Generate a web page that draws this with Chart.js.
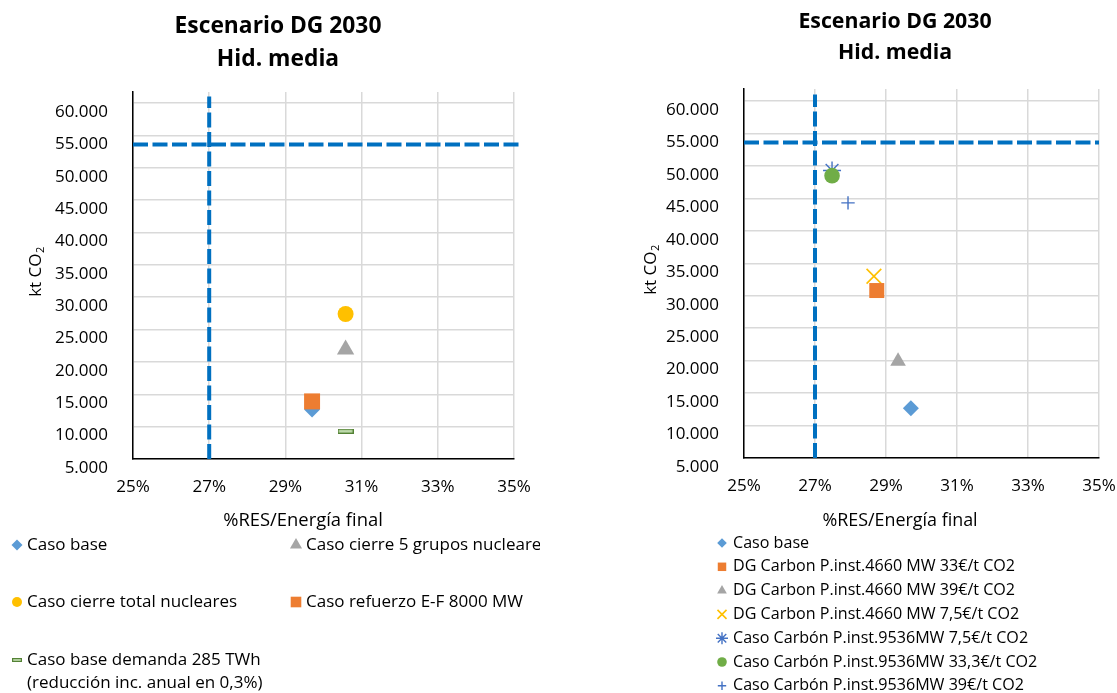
<!DOCTYPE html>
<html>
<head>
<meta charset="utf-8">
<script src="https://cdn.jsdelivr.net/npm/chart.js@4.4.1/dist/chart.umd.min.js"></script>
<style>
  html, body { margin: 0; padding: 0; background: #ffffff; }
  #wrap { position: relative; width: 1117px; height: 693px; overflow: hidden; background: #ffffff; }
  canvas { position: absolute; top: 0; }
  #left { left: 0; }
  #right { left: 560px; }
</style>
</head>
<body>
<div id="wrap">
  <canvas id="left" width="560" height="693"></canvas>
  <canvas id="right" width="557" height="693"></canvas>
</div>
<script>
// ---- Axis ticks -------------------------------------------------------
const xTickValues = [25, 27, 29, 31, 33, 35];
const xTickLabels = ['25%', '27%', '29%', '31%', '33%', '35%'];
const yTickValues = [5000, 10000, 15000, 20000, 25000, 30000, 35000, 40000, 45000, 50000, 55000, 60000];
const yTickLabels = ['5.000', '10.000', '15.000', '20.000', '25.000', '30.000',
                     '35.000', '40.000', '45.000', '50.000', '55.000', '60.000'];

// ---- Objective lines (dashed) -----------------------------------------
const resObjective = [{ x: 27, y: 5000 }, { x: 27, y: 61000 }];
const co2ObjectiveLeft = [{ x: 25, y: 53600 }, { x: 35.16, y: 53600 }];
const co2ObjectiveRight = [{ x: 25, y: 53600 }, { x: 35, y: 53600 }];

// ---- Left chart: nuclear / interconnection / demand cases -------------
const casoBase = [{ x: 29.70, y: 12650 }];
const cierre5Grupos = [{ x: 30.58, y: 21900 }];
const cierreTotal = [{ x: 30.58, y: 27400 }];
const refuerzoEF = [{ x: 29.70, y: 13900 }];
const demanda285 = [{ x: 30.58, y: 9300 }];

// ---- Right chart: coal capacity / CO2 price cases ---------------------
const dg33 = [{ x: 28.74, y: 30800 }];
const dg39 = [{ x: 29.34, y: 19900 }];
const dg75 = [{ x: 28.66, y: 33000 }];
const carbon75 = [{ x: 27.48, y: 49300 }];
const carbon333 = [{ x: 27.48, y: 48500 }];
const carbon39 = [{ x: 27.93, y: 44300 }];

const FONT = '"Open Sans", Lato, "Noto Sans", sans-serif';
Chart.defaults.font.family = FONT;
Chart.defaults.color = '#000';

const C = {
  blue: '#5B9BD5', orange: '#ED7D31', gray: '#A5A5A5', gold: '#FFC000',
  navy: '#4472C4', green: '#70AD47', line: '#0070C0'
};

// Hollow green bar marker for the reduced-demand case
function barMarker(w, h) {
  const c = document.createElement('canvas');
  c.width = w; c.height = h;
  const g = c.getContext('2d');
  g.fillStyle = '#C5E0B4';
  g.fillRect(0, 0, w, h);
  g.strokeStyle = '#548235';
  g.lineWidth = 1.2;
  g.strokeRect(0.6, 0.6, w - 1.2, h - 1.2);
  return c;
}
const barBig = barMarker(16, 5);
const barSmall = barMarker(10, 4);

function objectiveLine(data) {
  return {
    label: '', data, showLine: true, pointRadius: 0, borderColor: C.line,
    borderWidth: 4, borderDash: [15, 4.5], fill: false, clip: false, order: 100, legend: false
  };
}

function marker(label, data, style, radius, color, extra) {
  return Object.assign({
    label, data, pointStyle: style, pointRadius: radius, pointHoverRadius: radius,
    backgroundColor: color, borderColor: color, borderWidth: 0, order: 1
  }, extra || {});
}

function scales(yWidth, xHeight, yMax) {
  return {
    x: {
      type: 'linear', min: 25, max: 35,
      afterBuildTicks: s => { s.ticks = xTickValues.map(v => ({ value: v })); },
      afterFit: s => { s.height = xHeight; s.paddingLeft = 0; s.paddingRight = 0; },
      ticks: {
        callback: v => xTickLabels[xTickValues.indexOf(v)],
        padding: 18, font: { size: 17 }, color: '#000', maxRotation: 0, autoSkip: false
      },
      grid: { color: '#D9D9D9', lineWidth: 1.5, drawTicks: false, tickLength: 0 },
      border: { color: '#000', width: 1.5 }
    },
    y: {
      type: 'linear', min: 5000, max: yMax,
      afterBuildTicks: s => { s.ticks = yTickValues.map(v => ({ value: v })); },
      afterFit: s => { s.width = yWidth; s.paddingTop = 0; s.paddingBottom = 0; },
      ticks: {
        callback: v => yTickLabels[yTickValues.indexOf(v)],
        padding: 25, labelOffset: 9, font: { size: 17 }, color: '#000', autoSkip: false
      },
      grid: { color: '#D9D9D9', lineWidth: 1.5, drawTicks: false, tickLength: 0 },
      border: { color: '#000', width: 1.5 }
    }
  };
}

// Titles, axis titles and the legend are drawn onto the canvas here
const deco = {
  id: 'deco',
  afterDraw(chart, args, o) {
    const ctx = chart.ctx;
    ctx.save();
    ctx.fillStyle = '#000';
    ctx.textBaseline = 'middle';

    ctx.textAlign = 'center';
    ctx.font = `bold ${o.titleSize}px ${FONT}`;
    o.title.forEach((t, i) => ctx.fillText(t, o.titleX, o.titleY[i]));

    ctx.font = `${o.axisSize}px ${FONT}`;
    ctx.fillText('%RES/Energía final', o.xTitle[0], o.xTitle[1]);

    // Rotated "kt CO2" with subscript
    ctx.save();
    ctx.translate(o.yTitle[0], o.yTitle[1]);
    ctx.rotate(-Math.PI / 2);
    ctx.textAlign = 'left';
    ctx.font = `17px ${FONT}`;
    const w1 = ctx.measureText('kt CO').width;
    ctx.font = `11px ${FONT}`;
    const w2 = ctx.measureText('2').width;
    const sx = -(w1 + w2) / 2;
    ctx.font = `17px ${FONT}`;
    ctx.fillText('kt CO', sx, 0);
    ctx.font = `11px ${FONT}`;
    ctx.fillText('2', sx + w1 + 0.5, 5);
    ctx.restore();

    // Legend
    const items = chart.data.datasets.filter(d => d.legend !== false);
    const L = o.legend;
    items.forEach((d, i) => {
      const col = i % L.cols.length;
      const row = Math.floor(i / L.cols.length);
      const mx = L.cols[col];
      const my = L.rows[row];
      const r = L.radius[i];
      ctx.save();
      ctx.fillStyle = d.backgroundColor;
      ctx.strokeStyle = d.borderColor;
      ctx.lineWidth = d.borderWidth || 0;
      const style = d.legendStyle || d.pointStyle;
      Chart.helpers.drawPoint(ctx, { pointStyle: style, radius: r, borderWidth: d.borderWidth || 0, rotation: 0 }, mx, my);
      ctx.restore();

      ctx.save();
      ctx.beginPath();
      ctx.rect(mx, my - 20, L.clipRight - mx, 60);
      ctx.clip();
      ctx.fillStyle = '#000';
      ctx.textAlign = 'left';
      ctx.font = `${L.size}px ${FONT}`;
      const lines = Array.isArray(d.label) ? d.label : [d.label];
      lines.forEach((t, k) => ctx.fillText(t, mx + L.gap, my + k * L.lineHeight));
      ctx.restore();
    });
    ctx.restore();
  }
};

const common = {
  responsive: false,
  animation: false,
  events: [],
  plugins: { legend: { display: false }, tooltip: { enabled: false }, title: { display: false } }
};

// ---------------- Left chart ----------------
new Chart(document.getElementById('left'), {
  type: 'scatter',
  data: {
    datasets: [
      marker('Caso base', casoBase, 'rectRot', 8, C.blue, { order: 5 }),
      marker('Caso cierre 5 grupos nucleares', cierre5Grupos, 'triangle', 10, C.gray),
      marker('Caso cierre total nucleares', cierreTotal, 'circle', 8, C.gold),
      marker('Caso refuerzo E-F 8000 MW', refuerzoEF, 'rect', 11.3, C.orange),
      marker(['Caso base demanda 285 TWh', '(reducción inc. anual en 0,3%)'], demanda285, barBig, 8, C.green,
             { legendStyle: barSmall }),
      objectiveLine(resObjective),
      objectiveLine(co2ObjectiveLeft)
    ]
  },
  options: Object.assign({}, common, {
    layout: { padding: { top: 92, bottom: 194, left: 0, right: 46 } },
    scales: scales(133, 40, 61700),
    plugins: Object.assign({}, common.plugins, {
      deco: {
        title: ['Escenario DG 2030', 'Hid. media'], titleSize: 22.8, titleX: 278, titleY: [27, 60],
        axisSize: 18.4, xTitle: [303, 521], yTitle: [36, 272],
        legend: {
          cols: [17, 296], rows: [545, 602, 660], radius: [5.5, 7, 5, 7.5, 5],
          gap: 10, size: 17, lineHeight: 23, clipRight: 540
        }
      }
    })
  }),
  plugins: [deco]
});

// ---------------- Right chart ----------------
new Chart(document.getElementById('right'), {
  type: 'scatter',
  data: {
    datasets: [
      marker('Caso base', casoBase, 'rectRot', 8, C.blue),
      marker('DG Carbon P.inst.4660 MW 33€/t CO2', dg33, 'rect', 10.6, C.orange),
      marker('DG Carbon P.inst.4660 MW 39€/t CO2', dg39, 'triangle', 9, C.gray),
      marker('DG Carbon P.inst.4660 MW 7,5€/t CO2', dg75, 'crossRot', 10.4, C.gold, { borderWidth: 1.6 }),
      marker('Caso Carbón P.inst.9536MW 7,5€/t CO2', carbon75, 'star', 9, C.navy, { borderWidth: 1.4, order: 5 }),
      marker('Caso Carbón P.inst.9536MW 33,3€/t CO2', carbon333, 'circle', 7.8, C.green),
      marker('Caso Carbón P.inst.9536MW 39€/t CO2', carbon39, 'cross', 6.7, C.navy, { borderWidth: 1.4 }),
      objectiveLine(resObjective),
      objectiveLine(co2ObjectiveRight)
    ]
  },
  options: Object.assign({}, common, {
    layout: { padding: { top: 89, bottom: 195, left: 0, right: 18 } },
    scales: scales(184, 40, 61850),
    plugins: Object.assign({}, common.plugins, {
      deco: {
        title: ['Escenario DG 2030', 'Hid. media'], titleSize: 21.3, titleX: 335, titleY: [22, 53],
        axisSize: 17.9, xTitle: [340, 521], yTitle: [91, 270],
        legend: {
          cols: [162], rows: [543, 566.8, 590.6, 614.4, 638.2, 662, 685.8],
          radius: [4.8, 6, 5.6, 6.4, 6, 4.8, 4.2],
          gap: 11, size: 16.1, lineHeight: 23, clipRight: 557
        }
      }
    })
  }),
  plugins: [deco]
});
</script>
</body>
</html>
